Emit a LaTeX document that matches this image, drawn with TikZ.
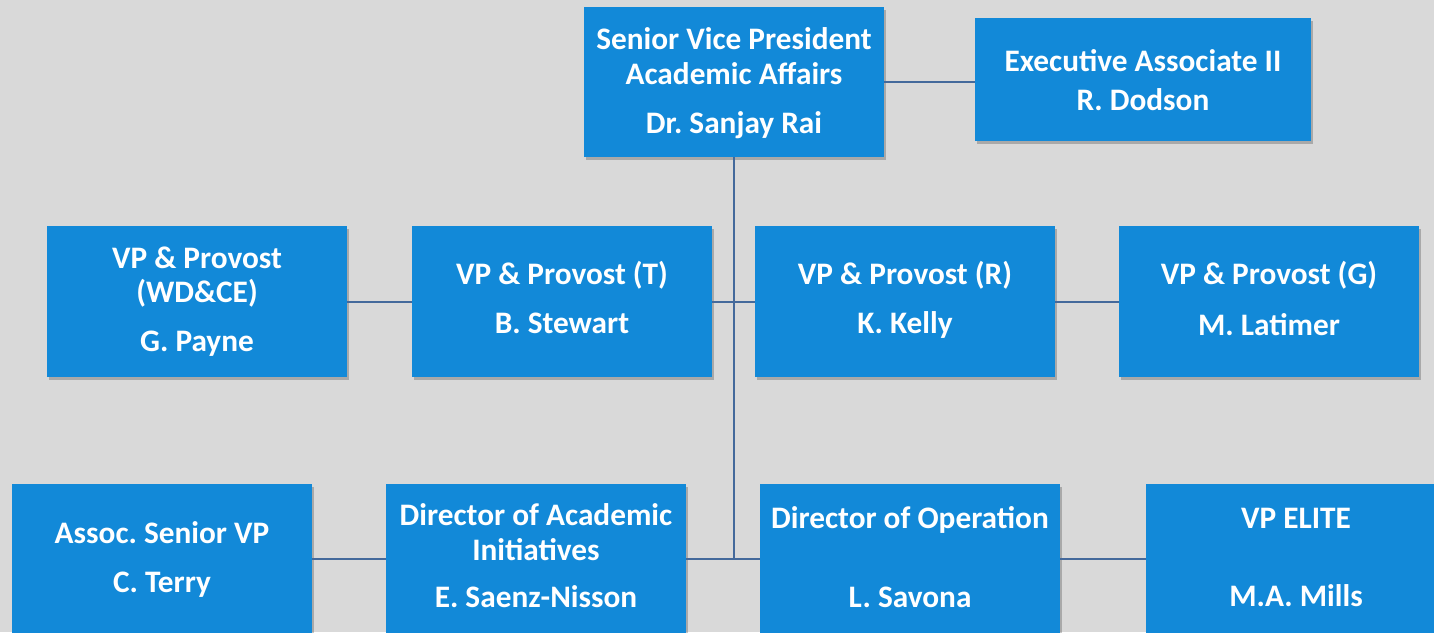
\documentclass[tikz,border=0pt]{standalone}
\usepackage{fontspec}
\setmainfont{Carlito}
\usetikzlibrary{shadows}
\definecolor{boxblue}{HTML}{1289D8}
\definecolor{linkblue}{HTML}{44699B}
\definecolor{bggray}{HTML}{D9D9D9}
\tikzset{
  orgbox/.style={fill=boxblue, anchor=north west, inner sep=0pt,
    minimum width=300pt, minimum height=151pt,
    drop shadow={shadow xshift=2pt, shadow yshift=-2.5pt, opacity=0.22, fill=black}},
  orgtext/.style={anchor=base, text=white, inner sep=0pt,
    font=\fontsize{31.3}{34}\selectfont\bfseries\frenchspacing},
  link/.style={draw=linkblue, line width=2pt}
}
\begin{document}
\begin{tikzpicture}[x=1pt,y=-1pt]
\clip (0,0) rectangle (1434,632);
\fill[bggray] (0,0) rectangle (1434,632);
% top row
\node[orgbox, minimum height=150pt] (svp) at (584,7) {};
\node[orgbox, minimum width=336pt, minimum height=123pt] (exec) at (975,18) {};
% middle row
\node[orgbox] (payne) at (47,226) {};
\node[orgbox] (stewart) at (412,226) {};
\node[orgbox] (kelly) at (755,226) {};
\node[orgbox] (latimer) at (1119,226) {};
% bottom row
\node[orgbox, minimum height=150pt] (terry) at (12,484) {};
\node[orgbox, minimum height=150pt] (saenz) at (386,484) {};
\node[orgbox, minimum height=150pt] (savona) at (760,484) {};
\node[orgbox, minimum height=150pt] (mills) at (1146,484) {};
% connectors
\draw[link] (svp.east) -- (svp.east -| exec.west);
\draw[link] (svp.south) -- (svp.south |- savona.west);
\draw[link] (payne.east) -- (stewart.west);
\draw[link] (stewart.east) -- (kelly.west);
\draw[link] (kelly.east) -- (latimer.west);
\draw[link] (terry.east) -- (saenz.west);
\draw[link] (saenz.east) -- (savona.west);
\draw[link] (savona.east) -- (mills.west);
% texts
\node[orgtext] (svp-a) at (734,49) {Senior Vice President};
\node[orgtext] (svp-b) at (734,84) {Academic Affairs};
\node[orgtext] (svp-c) at (734,133) {Dr. Sanjay Rai};
\node[orgtext] (exec-a) at (1143,71) {Executive Associate II};
\node[orgtext] (exec-b) at (1143,110) {R. Dodson};
\node[orgtext] (payne-a) at (197,268) {VP \& Provost};
\node[orgtext] (payne-b) at (197,302) {(WD\&CE)};
\node[orgtext] (payne-c) at (197,351) {G. Payne};
\node[orgtext] (stewart-a) at (562,284) {VP \& Provost (T)};
\node[orgtext] (stewart-b) at (562,333) {B. Stewart};
\node[orgtext] (kelly-a) at (905,284) {VP \& Provost (R)};
\node[orgtext] (kelly-b) at (905,333) {K. Kelly};
\node[orgtext] (latimer-a) at (1269,284) {VP \& Provost (G)};
\node[orgtext] (latimer-b) at (1269,335) {M. Latimer};
\node[orgtext] (terry-a) at (162,543) {Assoc. Senior VP};
\node[orgtext] (terry-b) at (162,592) {C. Terry};
\node[orgtext] (saenz-a) at (536,525) {Director of Academic};
\node[orgtext] (saenz-b) at (536,560) {Initiatives};
\node[orgtext] (saenz-c) at (536,607) {E. Saenz-Nisson};
\node[orgtext] (savona-a) at (910,528) {Director of Operation};
\node[orgtext] (savona-b) at (910,607) {L. Savona};
\node[orgtext] (mills-a) at (1296,528) {VP ELITE};
\node[orgtext] (mills-b) at (1296,606) {M.A. Mills};
\end{tikzpicture}
\end{document}
